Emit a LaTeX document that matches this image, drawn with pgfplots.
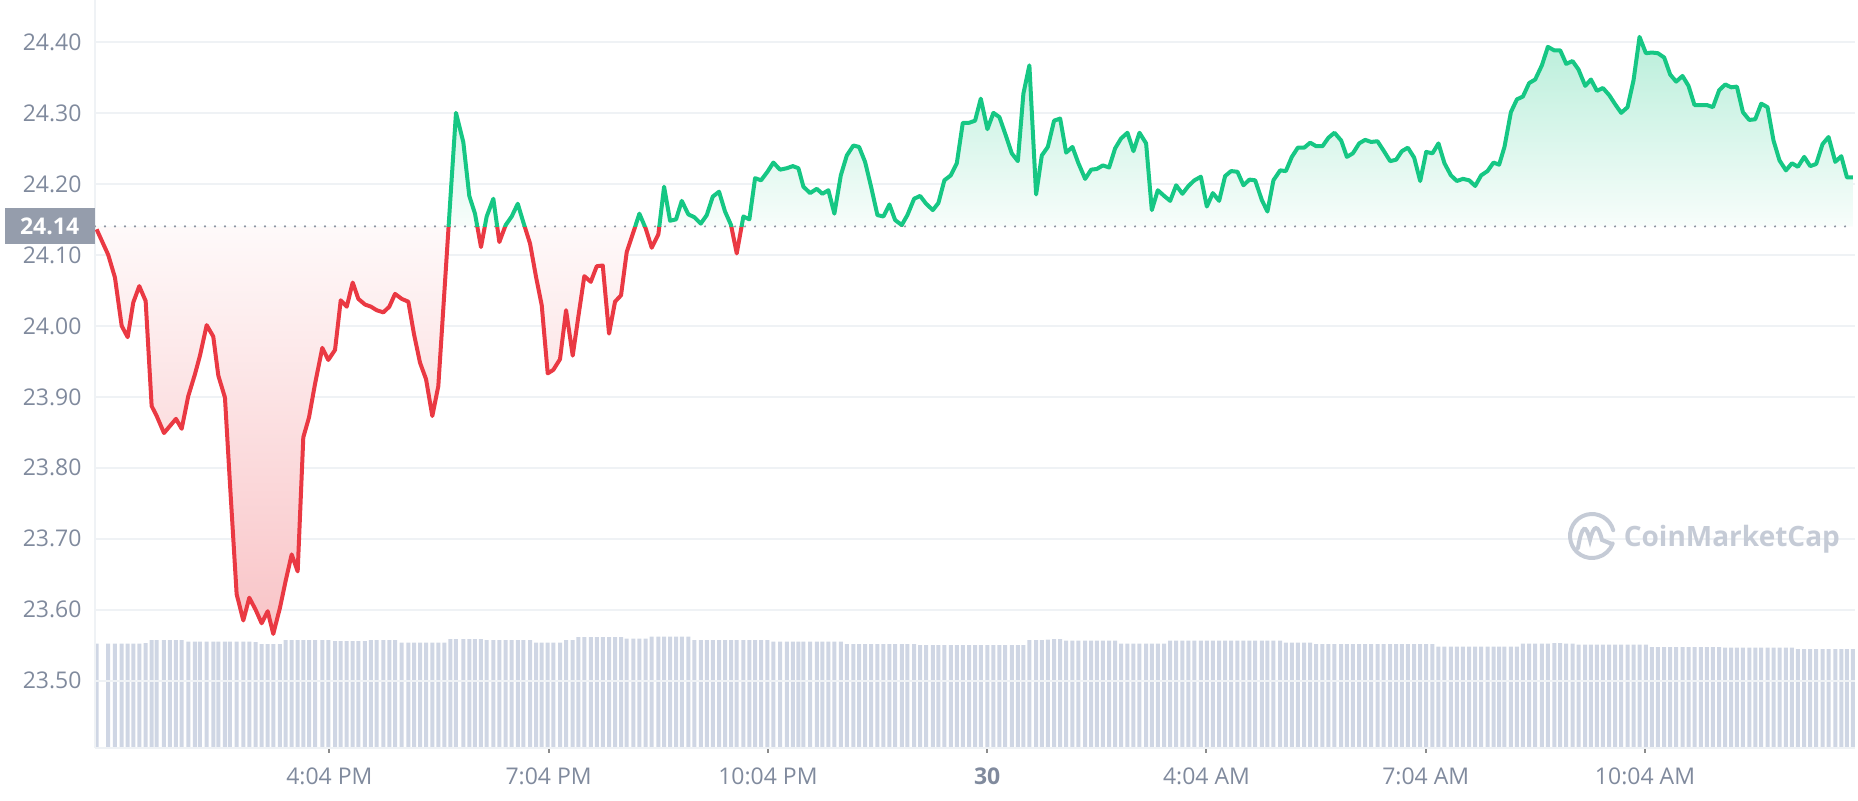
\documentclass[border=0pt]{standalone}
\usepackage{pgfplots}
\pgfplotsset{compat=1.18}
\usepackage{pgfplotstable}
\usepackage{fontspec}
\setmainfont{Open Sans}

\definecolor{cmcred}{HTML}{EA3943}
\definecolor{cmcgreen}{HTML}{16C784}
\definecolor{cmcgrid}{HTML}{EFF2F5}
\definecolor{cmctext}{HTML}{808A9D}
\definecolor{cmcvol}{HTML}{CFD6E4}
\definecolor{cmcbox}{HTML}{959DAC}
\definecolor{cmcdot}{HTML}{8E95A2}
\definecolor{cmcmark}{HTML}{C5CBD6}

% fill fades: bbox of the filled path runs 23.566..24.407, the 24.14 level sits at ~59bp
\pgfdeclareverticalshading{redfade}{100bp}{color(0bp)=(cmcred!30); color(25bp)=(cmcred!30); color(59bp)=(cmcred!3); color(100bp)=(cmcred!3)}
\pgfdeclareverticalshading{greenfade}{100bp}{color(0bp)=(cmcgreen!3); color(59bp)=(cmcgreen!3); color(75bp)=(cmcgreen!30); color(100bp)=(cmcgreen!30)}

% t = hours since midnight of the 29th, p = price, v = volume (relative)
\pgfplotstableread{
t p v
12.882 24.136 1.04
13.041 24.100 1.04
13.133 24.068 1.04
13.225 24.000 1.04
13.307 23.984 1.04
13.384 24.033 1.04
13.466 24.056 1.04
13.553 24.035 1.045
13.635 23.887 1.075
13.704 23.873 1.075
13.804 23.849 1.075
13.886 23.859 1.075
13.968 23.869 1.075
14.046 23.855 1.075
14.136 23.901 1.06
14.228 23.932 1.06
14.296 23.958 1.06
14.388 24.001 1.06
14.478 23.985 1.06
14.547 23.930 1.06
14.638 23.899 1.06
14.707 23.777 1.06
14.798 23.622 1.06
14.889 23.585 1.06
14.971 23.617 1.06
15.058 23.600 1.055
15.140 23.581 1.035
15.223 23.598 1.035
15.299 23.566 1.035
15.391 23.603 1.035
15.469 23.641 1.075
15.551 23.678 1.075
15.633 23.654 1.075
15.710 23.843 1.075
15.788 23.871 1.075
15.870 23.918 1.075
15.970 23.969 1.075
16.052 23.952 1.075
16.144 23.966 1.065
16.222 24.036 1.065
16.304 24.027 1.065
16.386 24.061 1.065
16.463 24.038 1.065
16.554 24.030 1.065
16.636 24.027 1.075
16.714 24.022 1.075
16.805 24.019 1.075
16.887 24.027 1.075
16.965 24.045 1.075
17.056 24.038 1.05
17.147 24.034 1.05
17.225 23.988 1.05
17.307 23.948 1.05
17.389 23.925 1.05
17.475 23.873 1.05
17.557 23.915 1.05
17.639 24.046 1.05
17.721 24.177 1.085
17.799 24.300 1.085
17.899 24.259 1.085
17.981 24.183 1.085
18.059 24.158 1.085
18.141 24.111 1.085
18.219 24.154 1.075
18.310 24.179 1.075
18.392 24.118 1.075
18.479 24.142 1.075
18.561 24.154 1.075
18.644 24.172 1.075
18.720 24.146 1.075
18.812 24.116 1.075
18.894 24.069 1.05
18.972 24.029 1.05
19.054 23.933 1.05
19.131 23.938 1.05
19.222 23.953 1.05
19.305 24.022 1.075
19.396 23.958 1.075
19.473 24.013 1.105
19.555 24.070 1.105
19.643 24.062 1.105
19.725 24.084 1.105
19.807 24.085 1.105
19.893 23.989 1.105
19.975 24.034 1.105
20.057 24.043 1.105
20.135 24.104 1.09
20.226 24.132 1.09
20.308 24.158 1.09
20.395 24.137 1.09
20.477 24.110 1.11
20.568 24.129 1.11
20.646 24.196 1.11
20.728 24.148 1.11
20.810 24.150 1.11
20.888 24.176 1.11
20.978 24.157 1.11
21.060 24.153 1.075
21.148 24.144 1.075
21.230 24.156 1.075
21.312 24.182 1.075
21.398 24.189 1.075
21.480 24.161 1.075
21.562 24.142 1.075
21.640 24.102 1.075
21.731 24.154 1.075
21.813 24.150 1.075
21.891 24.208 1.075
21.973 24.205 1.075
22.060 24.217 1.075
22.141 24.230 1.06
22.233 24.220 1.06
22.325 24.222 1.06
22.407 24.225 1.06
22.484 24.222 1.06
22.552 24.196 1.06
22.644 24.187 1.06
22.735 24.193 1.06
22.812 24.186 1.06
22.894 24.191 1.06
22.976 24.158 1.06
23.064 24.212 1.06
23.146 24.240 1.035
23.236 24.254 1.035
23.314 24.252 1.035
23.396 24.231 1.035
23.478 24.196 1.035
23.565 24.156 1.035
23.647 24.154 1.035
23.729 24.171 1.035
23.807 24.149 1.035
23.898 24.142 1.035
23.975 24.156 1.035
24.067 24.179 1.035
24.149 24.183 1.025
24.231 24.172 1.025
24.323 24.163 1.025
24.399 24.173 1.025
24.481 24.205 1.025
24.569 24.212 1.025
24.651 24.229 1.025
24.733 24.286 1.025
24.819 24.286 1.025
24.901 24.289 1.025
24.979 24.320 1.025
25.070 24.277 1.025
25.152 24.300 1.025
25.234 24.294 1.025
25.312 24.271 1.025
25.403 24.243 1.025
25.486 24.232 1.025
25.562 24.327 1.025
25.644 24.367 1.075
25.736 24.185 1.075
25.814 24.240 1.075
25.896 24.252 1.08
25.982 24.289 1.085
26.065 24.292 1.085
26.147 24.244 1.07
26.233 24.252 1.07
26.315 24.229 1.07
26.407 24.207 1.07
26.489 24.220 1.07
26.567 24.221 1.07
26.649 24.226 1.07
26.735 24.223 1.07
26.817 24.250 1.07
26.899 24.264 1.04
26.986 24.272 1.04
27.068 24.246 1.04
27.150 24.272 1.04
27.241 24.257 1.04
27.319 24.163 1.04
27.401 24.191 1.04
27.488 24.183 1.04
27.570 24.176 1.07
27.652 24.198 1.07
27.738 24.186 1.07
27.820 24.197 1.07
27.902 24.205 1.07
27.990 24.210 1.07
28.072 24.168 1.07
28.154 24.187 1.07
28.240 24.176 1.07
28.322 24.211 1.07
28.404 24.218 1.07
28.491 24.217 1.07
28.573 24.198 1.07
28.655 24.206 1.07
28.733 24.205 1.07
28.825 24.177 1.07
28.901 24.161 1.07
28.983 24.205 1.07
29.075 24.219 1.07
29.153 24.218 1.05
29.235 24.238 1.05
29.317 24.251 1.05
29.404 24.251 1.05
29.486 24.258 1.05
29.568 24.253 1.035
29.654 24.253 1.035
29.736 24.265 1.035
29.818 24.272 1.035
29.910 24.261 1.035
29.988 24.238 1.035
30.070 24.243 1.035
30.156 24.257 1.035
30.238 24.262 1.035
30.320 24.259 1.035
30.407 24.260 1.035
30.489 24.247 1.035
30.580 24.232 1.035
30.662 24.234 1.035
30.740 24.246 1.035
30.822 24.251 1.035
30.908 24.237 1.035
30.991 24.204 1.035
31.073 24.245 1.035
31.159 24.243 1.035
31.241 24.257 1.01
31.323 24.229 1.01
31.411 24.212 1.01
31.493 24.204 1.01
31.575 24.207 1.01
31.661 24.205 1.01
31.743 24.197 1.01
31.825 24.212 1.01
31.912 24.218 1.01
31.994 24.230 1.01
32.071 24.227 1.01
32.144 24.252 1.01
32.232 24.301 1.01
32.314 24.319 1.01
32.396 24.323 1.04
32.482 24.342 1.04
32.564 24.347 1.04
32.656 24.367 1.04
32.738 24.393 1.04
32.825 24.388 1.045
32.907 24.388 1.045
32.989 24.369 1.04
33.075 24.373 1.04
33.157 24.361 1.03
33.249 24.338 1.03
33.327 24.347 1.03
33.409 24.331 1.03
33.491 24.335 1.03
33.577 24.325 1.03
33.659 24.312 1.03
33.741 24.300 1.03
33.828 24.308 1.03
33.910 24.346 1.03
33.992 24.407 1.03
34.079 24.384 1.03
34.161 24.385 1.005
34.243 24.384 1.005
34.329 24.378 1.005
34.411 24.354 1.005
34.493 24.344 1.005
34.580 24.352 1.005
34.662 24.338 1.005
34.744 24.311 1.005
34.832 24.311 1.005
34.914 24.311 1.005
34.996 24.308 1.005
35.082 24.332 1.005
35.164 24.340 1.00
35.246 24.336 1.00
35.324 24.337 1.00
35.406 24.301 1.00
35.493 24.290 1.00
35.575 24.291 1.00
35.657 24.313 1.00
35.743 24.308 1.00
35.825 24.261 1.00
35.907 24.233 1.00
35.995 24.219 1.00
36.077 24.229 1.00
36.159 24.224 0.985
36.245 24.238 0.985
36.327 24.225 0.985
36.409 24.228 0.985
36.496 24.256 0.985
36.578 24.266 0.985
36.670 24.231 0.985
36.752 24.239 0.985
36.830 24.209 0.985
36.912 24.209 0.985
}\pricedata

\newcommand{\xlo}{12.86}
\newcommand{\xhi}{36.94}
\newcommand{\ylo}{23.406}
\newcommand{\yhi}{24.459}
\newcommand{\base}{24.14}

\pgfplotsset{
  cmcframe/.style={
    width=880pt, height=373.75pt, scale only axis,
    xmin=\xlo, xmax=\xhi, enlargelimits=false,
    at={(0,0)}, anchor=south west},
  cmcpart/.style={cmcframe, hide axis},
  cmclow/.style={cmcpart, ymin=\ylo, ymax=\base, height=260.526pt},
  cmchigh/.style={cmcpart, ymin=\base, ymax=\yhi, height=113.224pt,
    at={(0,373.75pt)}, anchor=north west},
}

\begin{document}
\begin{tikzpicture}
\path[use as bounding box] (-47.5pt,-26.25pt) rectangle (881.5pt,373.75pt);

% volume bars
\begin{axis}[cmcpart, ymin=0, ymax=7.475]
\addplot[ybar, bar width=2pt, fill=cmcvol, draw=none] table[x=t, y=v] {\pricedata};
\end{axis}

% frame, grid and tick labels
\begin{axis}[cmcframe, ymin=\ylo, ymax=\yhi,
    axis x line*=bottom, axis y line*=left,
    axis line style={draw=cmcgrid, line width=1pt, -},
    ymajorgrids, grid style={draw=cmcgrid, line width=1pt},
    ytick={23.5,23.6,23.7,23.8,23.9,24.0,24.1,24.2,24.3,24.4},
    scaled y ticks=false,
    yticklabel style={/pgf/number format/fixed, /pgf/number format/fixed zerofill,
      /pgf/number format/precision=2, xshift=-0.7pt},
    xtick={16.0667,19.0667,22.0667,25.0667,28.0667,31.0667,34.0667},
    xticklabels={4:04 PM,7:04 PM,10:04 PM,\textbf{30},4:04 AM,7:04 AM,10:04 AM},
    xticklabel style={yshift=-4pt},
    tick align=outside, major tick length=2.5pt,
    xtick style={draw=black!45, line width=1pt},
    ytick style={draw=none},
    tick label style={font=\fontsize{11.5}{13}\selectfont, text=cmctext},
    /pgf/number format/assume math mode=true,
  ]
\end{axis}

% watermark
\node[anchor=east, text=cmcmark, font=\fontsize{14}{16}\selectfont\bfseries] at (876pt,104pt) {CoinMarketCap};
\begin{scope}[shift={(748.5pt,105.75pt)}, cmcmark, line width=2pt, line cap=round]
  \draw (15:11pt) arc (15:340:11pt);
  \draw (-7pt,-6pt) .. controls (-5pt,6pt) and (-3pt,6pt) .. (-1pt,-2pt)
        .. controls (1pt,6pt) and (3pt,6pt) .. (5pt,-2pt) -- (10pt,-4pt);
\end{scope}

% fills between the price and the 24.14 reference
\begin{axis}[cmclow]
\addplot[draw=none, shade, shading=redfade] table[x=t, y=p] {\pricedata}
  -- (axis cs:36.912,\base) -- (axis cs:12.882,\base) -- cycle;
\end{axis}
\begin{axis}[cmchigh]
\addplot[draw=none, shade, shading=greenfade] table[x=t, y=p] {\pricedata}
  -- (axis cs:36.912,\base) -- (axis cs:12.882,\base) -- cycle;
\end{axis}

% dotted reference line
\begin{axis}[cmcpart, ymin=\ylo, ymax=\yhi]
\addplot[cmcdot, line width=1.2pt, line cap=round, dash pattern=on 0pt off 5pt] coordinates {(\xlo,\base) (\xhi,\base)};
\end{axis}

% price line, red below and green above the reference
\begin{axis}[cmclow]
\addplot[cmcred, line width=2pt, line join=round] table[x=t, y=p] {\pricedata};
\end{axis}
\begin{axis}[cmchigh]
\addplot[cmcgreen, line width=2pt, line join=round] table[x=t, y=p] {\pricedata};
\end{axis}

% reference price tag
\node[fill=cmcbox, text=white, font=\fontsize{11.5}{13}\selectfont\bfseries,
  minimum width=45pt, minimum height=18pt, inner sep=0pt, anchor=east] at (0,260.53pt) {24.14};
\end{tikzpicture}
\end{document}
